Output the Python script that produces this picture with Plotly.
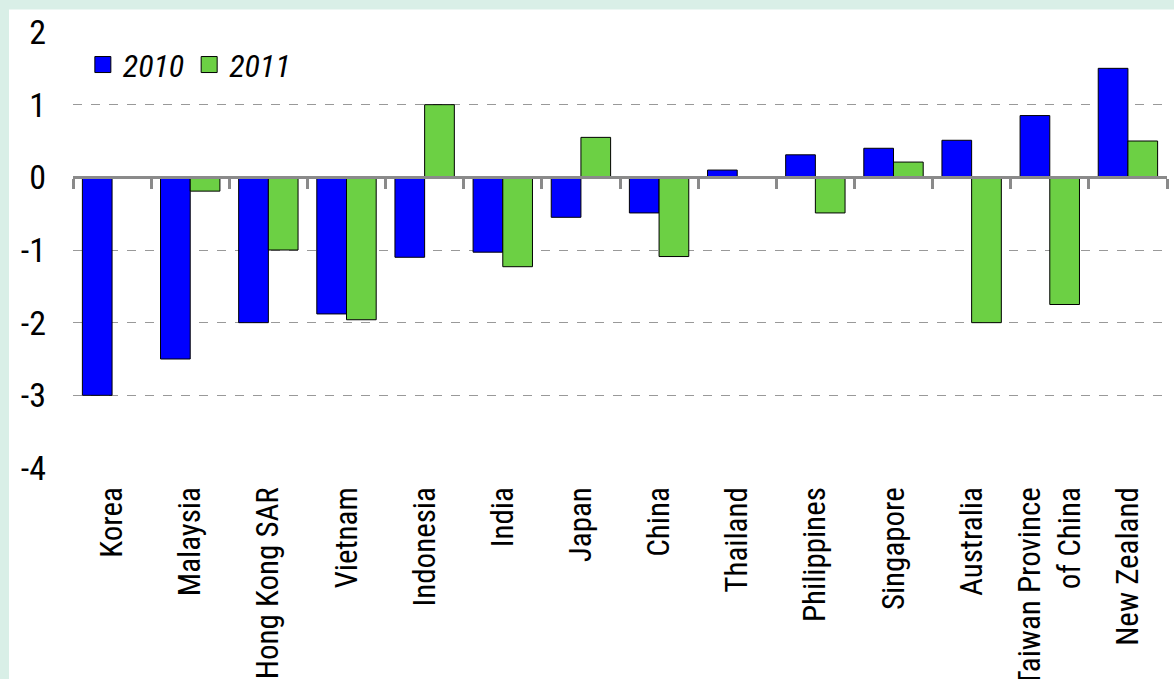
import plotly.graph_objects as go

countries = ["Korea", "Malaysia", "Hong Kong SAR", "Vietnam", "Indonesia", "India", "Japan",
             "China", "Thailand", "Philippines", "Singapore", "Australia",
             "Taiwan Province<br>of China", "New Zealand"]
v2010 = [-3.0, -2.5, -2.0, -1.88, -1.1, -1.03, -0.55, -0.49, 0.1, 0.31, 0.4, 0.51, 0.85, 1.5]
v2011 = [None, -0.19, -1.0, -1.96, 1.0, -1.23, 0.55, -1.09, None, -0.49, 0.21, -2.0, -1.75, 0.5]
series_names = ["2010", "2011"]
colors = ["#0000FF", "#6CD044"]
y_ticks = [2, 1, 0, -1, -2, -3, -4]

FONT = "Roboto Condensed, Liberation Sans Narrow, DejaVu Sans Condensed, sans-serif"

fig = go.Figure()
for name, vals, col in zip(series_names, [v2010, v2011], colors):
    fig.add_trace(go.Bar(x=countries, y=vals, name=name,
                         marker=dict(color=col, line=dict(color="#000000", width=1)),
                         showlegend=False))
# legend proxies (larger squares)
for name, col in zip(series_names, colors):
    fig.add_trace(go.Scatter(x=[None], y=[None], mode="markers", name=name,
                             marker=dict(symbol="square", size=16, color=col,
                                         line=dict(color="#000000", width=1))))
# helper trace for the zero-line axis with boundary ticks
fig.add_trace(go.Scatter(x=countries, y=[None] * len(countries), xaxis="x2", mode="markers",
                         showlegend=False, hoverinfo="skip"))

fig.update_layout(
    width=1174, height=679,
    paper_bgcolor="#d9efe7", plot_bgcolor="white",
    margin=dict(l=73, r=7, t=32, b=211),
    barmode="group", bargap=0.24, bargroupgap=0,
    font=dict(family=FONT, color="black"),
    showlegend=True,
    legend=dict(orientation="h", x=0.009, y=0.988, xanchor="left", yanchor="top",
                bgcolor="rgba(0,0,0,0)", font=dict(size=32, style="italic", family=FONT),
                itemwidth=30, tracegroupgap=0),
    xaxis=dict(type="category", categoryorder="array", categoryarray=countries, range=[-0.5, 13.5],
               showgrid=False, showline=False, zeroline=False, ticks="", tickangle=-90,
               automargin=False, ticklabelstandoff=12, tickfont=dict(size=31, family=FONT)),
    xaxis2=dict(type="category", categoryorder="array", categoryarray=countries, range=[-0.5, 13.5],
                overlaying="x", anchor="free", position=4 / 6, side="bottom", automargin=False,
                showgrid=False, zeroline=False, showline=True, linecolor="#8a8a8a", linewidth=3,
                ticks="outside", tickson="boundaries", ticklen=10, tickwidth=3, tickcolor="#8a8a8a",
                showticklabels=False),
    yaxis=dict(range=[-4, 2], tickvals=y_ticks, ticktext=[str(t) for t in y_ticks],
               showgrid=True, gridcolor="#999999", griddash="dash", gridwidth=1,
               zeroline=False, showline=False, ticks="", ticklabelstandoff=26, automargin=False,
               tickfont=dict(size=34, family=FONT)),
    shapes=[dict(type="rect", xref="paper", yref="paper", x0=-0.0585, x1=1.02, y0=-0.6, y1=1.0517,
                 fillcolor="white", line=dict(width=0), layer="below")],
)

fig.write_html("out.html", config={"displayModeBar": False},
               post_script="document.body.style.margin='0px';")
